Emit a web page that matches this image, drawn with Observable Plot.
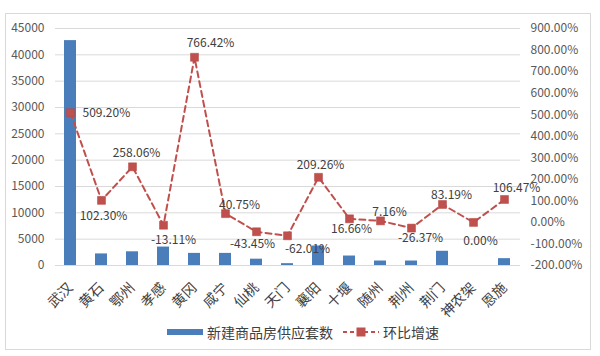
<!DOCTYPE html>
<html>
<head>
<meta charset="utf-8">
<script src="https://cdn.jsdelivr.net/npm/d3@7"></script>
<script src="https://cdn.jsdelivr.net/npm/@observablehq/plot@0.6"></script>
<style>
  html, body { margin: 0; padding: 0; background: #fff; }
  #wrap { position: relative; width: 600px; height: 356px; overflow: hidden; font-family: "Noto Sans CJK SC", "Noto Sans", sans-serif; }
  #frame { position: absolute; left: 5px; top: 13px; width: 586px; height: 337px; border: 1px solid #d9d9d9; box-sizing: border-box; }
  #chart { position: absolute; left: 0; top: 0; }
  #legend { position: absolute; left: 0; top: 320px; width: 600px; height: 24px; font-size: 14px; color: #404040; }
  .lg { position: absolute; top: 0; display: flex; align-items: center; height: 24px; }
</style>
</head>
<body>
<div id="wrap">
  <div id="frame"></div>
  <div id="chart"></div>
  <div id="legend"></div>
</div>
<script>
const categories = ["武汉","黄石","鄂州","孝感","黄冈","咸宁","仙桃","天门","襄阳","十堰","随州","荆州","荆门","神农架","恩施"];
const supply = [42700, 2200, 2600, 3500, 2300, 2300, 1200, 350, 3700, 1800, 850, 850, 2700, 0, 1300];
const growth = [509.20, 102.30, 258.06, -13.11, 766.42, 40.75, -43.45, -62.01, 209.26, 16.66, 7.16, -26.37, 83.19, 0.00, 106.47];
const leftTicks = [0, 5000, 10000, 15000, 20000, 25000, 30000, 35000, 40000, 45000];
const rightTicks = [-200, -100, 0, 100, 200, 300, 400, 500, 600, 700, 800, 900];
const seriesNames = ["新建商品房供应套数", "环比增速"];

const BLUE = "#4a7ebb";
const RED = "#c0504d";

// map the right (percent) axis onto the left scale's domain
const rMin = -200, rMax = 900, lMax = 45000;
const toLeft = v => (v - rMin) / (rMax - rMin) * lMax;
const fromLeft = y => y / lMax * (rMax - rMin) + rMin;

const rows = categories.map((c, i) => ({city: c, supply: supply[i], growth: growth[i], g: toLeft(growth[i])}));

// label offsets [dx, dy] per point
const off = [[12,0],[2,16],[4,-14],[10,15],[16,-14],[14,-8],[-4,12],[20,13],[2,-12],[2,10],[9,-9],[9,10],[9,-9],[7,19],[12,-11]];
const anchors = ["start","middle","middle","middle","middle","middle","middle","middle","middle","middle","middle","middle","middle","middle","middle"];

const labelMarks = rows.map((d, i) => Plot.text([d], {
  x: "city", y: "g", text: r => r.growth.toFixed(2) + "%",
  dx: off[i][0], dy: off[i][1], textAnchor: anchors[i],
  fontSize: 12, fill: "#404040"
}));

const chart = Plot.plot({
  width: 600,
  height: 320,
  marginLeft: 55,
  marginRight: 80,
  marginTop: 28,
  marginBottom: 55,
  style: {fontFamily: "'Noto Sans CJK SC', 'Noto Sans', sans-serif", background: "transparent"},
  x: {type: "band", domain: categories, paddingInner: 0.6, paddingOuter: 0.3},
  y: {domain: [0, lMax]},
  marks: [
    Plot.gridY(leftTicks, {stroke: "#d9d9d9", strokeOpacity: 1}),
    Plot.axisY({ticks: leftTicks, tickSize: 0, tickPadding: 11, fontSize: 12, color: "#595959", label: null, tickFormat: d => String(d)}),
    Plot.axisY({anchor: "right", ticks: rightTicks.map(toLeft), tickSize: 0, tickPadding: 10, fontSize: 12, color: "#595959", label: null,
      tickFormat: d => Math.round(fromLeft(d)).toFixed(2) + "%"}),
    Plot.axisX({tickRotate: -45, tickSize: 0, tickPadding: 20, fontSize: 14, color: "#404040", label: null}),
    Plot.barY(rows, {x: "city", y: "supply", fill: BLUE}),
    Plot.line(rows, {x: "city", y: "g", stroke: RED, strokeWidth: 2, strokeDasharray: "6,4"}),
    Plot.dot(rows, {x: "city", y: "g", symbol: "square", r: 4.5, fill: RED, stroke: "#b24541", strokeWidth: 0.5}),
    ...labelMarks
  ]
});
document.getElementById("chart").appendChild(chart);

// legend
const lg = document.getElementById("legend");
lg.innerHTML = `
  <div class="lg" style="left:167px"><svg width="36" height="8" style="margin-right:4px"><rect x="0" y="1" width="36" height="6" fill="${BLUE}"/></svg><span>${seriesNames[0]}</span></div>
  <div class="lg" style="left:343px"><svg width="36" height="12" style="margin-right:4px"><line x1="0" y1="6" x2="36" y2="6" stroke="${RED}" stroke-width="2" stroke-dasharray="4,3"/><rect x="13.5" y="1.5" width="9" height="9" fill="${RED}"/></svg><span>${seriesNames[1]}</span></div>
`;
</script>
</body>
</html>
